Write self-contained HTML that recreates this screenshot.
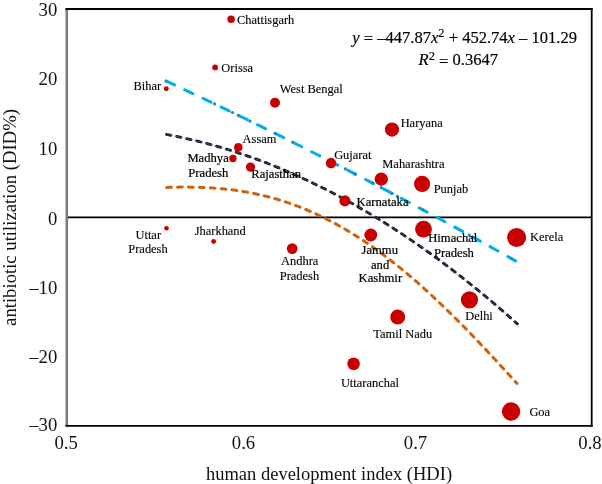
<!DOCTYPE html>
<html><head><meta charset="utf-8"><style>
html,body{margin:0;padding:0;background:#fff;}
body{width:602px;height:484px;overflow:hidden;position:relative;}
svg{position:absolute;left:0;top:0;will-change:transform;}
text{font-family:"Liberation Serif",serif;}
.l{font-size:12.45px;fill:#000;stroke:#000;stroke-width:0.12px;}
.b{font-size:12.65px;stroke:#000;stroke-width:0.22px;}
.t{font-size:18.70px;fill:#111;}
.e{fill:#000;stroke:#000;stroke-width:0.18px;}
</style></head><body>
<svg width="602" height="484" viewBox="0 0 602 484">
<line x1="66.8" y1="8.2" x2="66.8" y2="426.6" stroke="#7d7d7d" stroke-width="2.6"/>
<line x1="65.5" y1="9" x2="592.6" y2="9" stroke="#000" stroke-width="1.8"/>
<line x1="591.7" y1="8.1" x2="591.7" y2="426.7" stroke="#000" stroke-width="1.8"/>
<line x1="65.5" y1="425.8" x2="592.6" y2="425.8" stroke="#000" stroke-width="1.8"/>
<line x1="68" y1="217.4" x2="591" y2="217.4" stroke="#000" stroke-width="1.8"/>
<path d="M166.40 81.16 L170.83 83.23 L175.26 85.30 L179.69 87.37 L184.12 89.46 L188.55 91.54 L192.98 93.63 L197.41 95.73 L201.84 97.84 L206.27 99.94 L210.70 102.06 L215.13 104.18 L219.56 106.30 L223.99 108.44 L228.43 110.57 L232.86 112.71 L237.29 114.86 L241.72 117.02 L246.15 119.18 L250.58 121.34 L255.01 123.51 L259.44 125.69 L263.87 127.87 L268.30 130.05 L272.73 132.25 L277.16 134.44 L281.59 136.65 L286.02 138.86 L290.45 141.07 L294.88 143.29 L299.31 145.52 L303.74 147.75 L308.17 149.98 L312.60 152.23 L317.03 154.47 L321.46 156.73 L325.89 158.99 L330.32 161.25 L334.75 163.52 L339.18 165.80 L343.62 168.08 L348.05 170.37 L352.48 172.66 L356.91 174.96 L361.34 177.26 L365.77 179.57 L370.20 181.88 L374.63 184.20 L379.06 186.53 L383.49 188.86 L387.92 191.20 L392.35 193.54 L396.78 195.89 L401.21 198.24 L405.64 200.60 L410.07 202.96 L414.50 205.33 L418.93 207.71 L423.36 210.09 L427.79 212.48 L432.22 214.87 L436.65 217.27 L441.08 219.67 L445.51 222.08 L449.94 224.50 L454.37 226.92 L458.81 229.34 L463.24 231.77 L467.67 234.21 L472.10 236.65 L476.53 239.10 L480.96 241.55 L485.39 244.01 L489.82 246.48 L494.25 248.95 L498.68 251.42 L503.11 253.91 L507.54 256.39 L511.97 258.89 L516.40 261.38" fill="none" stroke="#00aeef" stroke-width="3" stroke-linecap="round" stroke-dasharray="9 11.2"/>
<path d="M166.52 134.46 L170.96 135.29 L175.40 136.17 L179.84 137.08 L184.28 138.03 L188.72 139.03 L193.16 140.06 L197.61 141.13 L202.05 142.25 L206.49 143.40 L210.93 144.60 L215.37 145.83 L219.81 147.11 L224.25 148.42 L228.69 149.78 L233.14 151.17 L237.58 152.61 L242.02 154.08 L246.46 155.60 L250.90 157.15 L255.34 158.75 L259.78 160.38 L264.22 162.06 L268.66 163.77 L273.11 165.53 L277.55 167.33 L281.99 169.16 L286.43 171.04 L290.87 172.95 L295.31 174.91 L299.75 176.91 L304.19 178.94 L308.63 181.02 L313.08 183.14 L317.52 185.30 L321.96 187.49 L326.40 189.73 L330.84 192.01 L335.28 194.33 L339.72 196.68 L344.16 199.08 L348.60 201.52 L353.05 204.00 L357.49 206.52 L361.93 209.07 L366.37 211.67 L370.81 214.31 L375.25 216.99 L379.69 219.71 L384.13 222.47 L388.57 225.27 L393.02 228.11 L397.46 230.99 L401.90 233.90 L406.34 236.86 L410.78 239.86 L415.22 242.90 L419.66 245.98 L424.10 249.10 L428.54 252.26 L432.99 255.46 L437.43 258.70 L441.87 261.99 L446.31 265.31 L450.75 268.67 L455.19 272.07 L459.63 275.51 L464.07 278.99 L468.52 282.51 L472.96 286.07 L477.40 289.67 L481.84 293.32 L486.28 297.00 L490.72 300.72 L495.16 304.48 L499.60 308.28 L504.04 312.13 L508.49 316.01 L512.93 319.93 L517.37 323.89" fill="none" stroke="#0c1120" stroke-width="2.8" stroke-linecap="round" stroke-dasharray="4.5 5.77"/>
<path d="M166.52 134.46 L170.96 135.29 L175.40 136.17 L179.84 137.08 L184.28 138.03 L188.72 139.03 L193.16 140.06 L197.61 141.13 L202.05 142.25 L206.49 143.40 L210.93 144.60 L215.37 145.83 L219.81 147.11 L224.25 148.42 L228.69 149.78 L233.14 151.17 L237.58 152.61 L242.02 154.08 L246.46 155.60 L250.90 157.15 L255.34 158.75 L259.78 160.38 L264.22 162.06 L268.66 163.77 L273.11 165.53 L277.55 167.33 L281.99 169.16 L286.43 171.04 L290.87 172.95 L295.31 174.91 L299.75 176.91 L304.19 178.94 L308.63 181.02 L313.08 183.14 L317.52 185.30 L321.96 187.49 L326.40 189.73 L330.84 192.01 L335.28 194.33 L339.72 196.68 L344.16 199.08 L348.60 201.52 L353.05 204.00 L357.49 206.52 L361.93 209.07 L366.37 211.67 L370.81 214.31 L375.25 216.99 L379.69 219.71 L384.13 222.47 L388.57 225.27 L393.02 228.11 L397.46 230.99 L401.90 233.90 L406.34 236.86 L410.78 239.86 L415.22 242.90 L419.66 245.98 L424.10 249.10 L428.54 252.26 L432.99 255.46 L437.43 258.70 L441.87 261.99 L446.31 265.31 L450.75 268.67 L455.19 272.07 L459.63 275.51 L464.07 278.99 L468.52 282.51 L472.96 286.07 L477.40 289.67 L481.84 293.32 L486.28 297.00 L490.72 300.72 L495.16 304.48 L499.60 308.28 L504.04 312.13 L508.49 316.01 L512.93 319.93 L517.37 323.89" fill="none" stroke="#a8b8e8" stroke-width="0.7" opacity="0.5"/>
<path d="M166.60 187.44 L170.14 187.33 L173.68 187.24 L177.22 187.17 L180.76 187.12 L184.30 187.10 L187.84 187.10 L191.38 187.13 L194.92 187.19 L198.45 187.28 L201.99 187.40 L205.53 187.56 L209.07 187.74 L212.61 187.97 L216.15 188.22 L219.69 188.52 L223.23 188.85 L226.77 189.23 L230.31 189.64 L233.85 190.09 L237.39 190.59 L240.93 191.13 L244.47 191.71 L248.01 192.34 L251.55 193.01 L255.08 193.73 L258.62 194.50 L262.16 195.31 L265.70 196.18 L269.24 197.09 L272.78 198.05 L276.32 199.06 L279.86 200.13 L283.40 201.24 L286.94 202.40 L290.48 203.62 L294.02 204.89 L297.56 206.21 L301.10 207.59 L304.64 209.02 L308.18 210.50 L311.72 212.04 L315.25 213.63 L318.79 215.27 L322.33 216.97 L325.87 218.73 L329.41 220.54 L332.95 222.40 L336.49 224.32 L340.03 226.29 L343.57 228.32 L347.11 230.40 L350.65 232.53 L354.19 234.72 L357.73 236.96 L361.27 239.26 L364.81 241.61 L368.35 244.01 L371.88 246.47 L375.42 248.98 L378.96 251.53 L382.50 254.15 L386.04 256.81 L389.58 259.52 L393.12 262.28 L396.66 265.09 L400.20 267.95 L403.74 270.86 L407.28 273.81 L410.82 276.81 L414.36 279.86 L417.90 282.95 L421.44 286.08 L424.98 289.26 L428.52 292.48 L432.05 295.74 L435.59 299.05 L439.13 302.39 L442.67 305.77 L446.21 309.19 L449.75 312.64 L453.29 316.13 L456.83 319.66 L460.37 323.21 L463.91 326.80 L467.45 330.42 L470.99 334.07 L474.53 337.74 L478.07 341.45 L481.61 345.17 L485.15 348.92 L488.68 352.70 L492.22 356.49 L495.76 360.30 L499.30 364.13 L502.84 367.98 L506.38 371.84 L509.92 375.71 L513.46 379.59 L517.00 383.48" fill="none" stroke="#d0620c" stroke-width="3" stroke-linecap="round" stroke-dasharray="4.8 6.13"/>
<circle cx="166.0" cy="81.0" r="1.6" fill="#1a8fae"/>
<circle cx="214.6" cy="103.9" r="1.6" fill="#1a8fae"/>
<circle cx="232.5" cy="112.5" r="1.6" fill="#1a8fae"/>
<circle cx="238.3" cy="115.4" r="1.6" fill="#1a8fae"/>
<circle cx="250.0" cy="121.1" r="1.6" fill="#1a8fae"/>
<circle cx="275.0" cy="133.4" r="1.6" fill="#1a8fae"/>
<circle cx="292.7" cy="142.2" r="1.6" fill="#1a8fae"/>
<circle cx="345.3" cy="168.9" r="1.6" fill="#1a8fae"/>
<circle cx="354.6" cy="173.8" r="1.6" fill="#1a8fae"/>
<circle cx="372.3" cy="183.0" r="1.6" fill="#1a8fae"/>
<circle cx="381.2" cy="187.7" r="1.6" fill="#1a8fae"/>
<circle cx="392.2" cy="193.5" r="1.6" fill="#1a8fae"/>
<circle cx="397.5" cy="196.3" r="1.6" fill="#1a8fae"/>
<circle cx="422.9" cy="209.8" r="1.6" fill="#1a8fae"/>
<circle cx="469.2" cy="235.1" r="1.6" fill="#1a8fae"/>
<circle cx="511.2" cy="258.5" r="1.6" fill="#1a8fae"/>
<circle cx="231.1" cy="19.2" r="3.75" fill="#c80000"/>
<circle cx="215.1" cy="67.4" r="2.85" fill="#c80000"/>
<circle cx="166.3" cy="88.7" r="2.45" fill="#c80000"/>
<circle cx="275.0" cy="102.8" r="5.00" fill="#c80000"/>
<circle cx="392.0" cy="129.6" r="7.10" fill="#c80000"/>
<circle cx="331.0" cy="163.1" r="5.25" fill="#c80000"/>
<circle cx="381.3" cy="179.2" r="6.60" fill="#c80000"/>
<circle cx="422.1" cy="183.9" r="8.10" fill="#c80000"/>
<circle cx="344.9" cy="200.9" r="5.60" fill="#c80000"/>
<circle cx="238.3" cy="147.4" r="4.30" fill="#c80000"/>
<circle cx="232.9" cy="158.5" r="3.70" fill="#c80000"/>
<circle cx="250.5" cy="167.1" r="4.65" fill="#c80000"/>
<circle cx="166.5" cy="228.3" r="2.30" fill="#c80000"/>
<circle cx="213.6" cy="241.5" r="2.40" fill="#c80000"/>
<circle cx="292.2" cy="248.6" r="5.35" fill="#c80000"/>
<circle cx="370.8" cy="235.0" r="6.40" fill="#c80000"/>
<circle cx="423.5" cy="229.2" r="8.40" fill="#c80000"/>
<circle cx="516.6" cy="237.5" r="9.50" fill="#c80000"/>
<circle cx="469.5" cy="299.8" r="8.60" fill="#c80000"/>
<circle cx="397.7" cy="317.0" r="7.50" fill="#c80000"/>
<circle cx="353.6" cy="363.8" r="6.30" fill="#c80000"/>
<circle cx="511.1" cy="411.5" r="9.20" fill="#c80000"/>
<text x="265.65" y="23.90" text-anchor="middle" class="l">Chattisgarh</text>
<text x="237.20" y="72.00" text-anchor="middle" class="l">Orissa</text>
<text x="147.40" y="89.90" text-anchor="middle" class="l">Bihar</text>
<text x="311.25" y="92.90" text-anchor="middle" class="l">West Bengal</text>
<text x="421.70" y="126.60" text-anchor="middle" class="l">Haryana</text>
<text x="352.80" y="159.00" text-anchor="middle" class="l">Gujarat</text>
<text x="413.40" y="168.40" text-anchor="middle" class="l">Maharashtra</text>
<text x="450.95" y="192.90" text-anchor="middle" class="l">Punjab</text>
<text x="382.55" y="206.40" text-anchor="middle" class="l b">Karnataka</text>
<text x="259.55" y="143.40" text-anchor="middle" class="l">Assam</text>
<text x="208.10" y="162.10" text-anchor="middle" class="l b">Madhya</text>
<text x="208.30" y="176.80" text-anchor="middle" class="l b">Pradesh</text>
<text x="276.15" y="177.50" text-anchor="middle" class="l b">Rajasthan</text>
<text x="148.25" y="238.70" text-anchor="middle" class="l">Uttar</text>
<text x="148.00" y="253.40" text-anchor="middle" class="l">Pradesh</text>
<text x="220.25" y="234.80" text-anchor="middle" class="l">Jharkhand</text>
<text x="299.75" y="265.20" text-anchor="middle" class="l">Andhra</text>
<text x="299.45" y="280.20" text-anchor="middle" class="l">Pradesh</text>
<text x="379.75" y="254.00" text-anchor="middle" class="l b">Jammu</text>
<text x="380.10" y="268.50" text-anchor="middle" class="l b">and</text>
<text x="380.35" y="282.40" text-anchor="middle" class="l b">Kashmir</text>
<text x="452.80" y="242.40" text-anchor="middle" class="l b">Himachal</text>
<text x="453.95" y="256.90" text-anchor="middle" class="l b">Pradesh</text>
<text x="546.65" y="240.70" text-anchor="middle" class="l">Kerela</text>
<text x="479.00" y="319.60" text-anchor="middle" class="l">Delhi</text>
<text x="402.80" y="338.30" text-anchor="middle" class="l">Tamil Nadu</text>
<text x="369.90" y="386.70" text-anchor="middle" class="l">Uttaranchal</text>
<text x="539.75" y="415.60" text-anchor="middle" class="l">Goa</text>
<text x="57.3" y="16.40" text-anchor="end" class="t">30</text>
<text x="57.3" y="85.47" text-anchor="end" class="t">20</text>
<text x="57.3" y="155.43" text-anchor="end" class="t">10</text>
<text x="57.3" y="224.60" text-anchor="end" class="t">0</text>
<text x="57.3" y="294.47" text-anchor="end" class="t">–10</text>
<text x="57.3" y="363.03" text-anchor="end" class="t">–20</text>
<text x="57.3" y="431.20" text-anchor="end" class="t">–30</text>
<text x="66.20" y="449.2" text-anchor="middle" class="t">0.5</text>
<text x="243.50" y="449.2" text-anchor="middle" class="t">0.6</text>
<text x="415.50" y="449.2" text-anchor="middle" class="t">0.7</text>
<text x="590.00" y="449.2" text-anchor="middle" class="t">0.8</text>
<text x="329" y="480" text-anchor="middle" class="t" style="font-size:18.5px">human development index (HDI)</text>
<text transform="translate(15.6 217.45) rotate(-90)" text-anchor="middle" class="t" style="font-size:18.7px">antibiotic utilization (DID%)</text>
<g transform="translate(464.60 42.60) scale(1.035 1)"><text x="0" y="0" text-anchor="middle" class="e" style="font-size:16.00px"><tspan font-style="italic">y</tspan> <tspan dy="1.2">=</tspan><tspan dy="-1.2"> –447.87</tspan><tspan font-style="italic">x</tspan><tspan dy="-5.2" font-size="12">2</tspan><tspan dy="5.2"> </tspan><tspan dy="0.8">+</tspan><tspan dy="-0.8"> 452.74</tspan><tspan font-style="italic">x</tspan> – 101.29</text></g>
<g transform="translate(458.30 65.30) scale(1.035 1)"><text x="0" y="0" text-anchor="middle" class="e" style="font-size:16.00px"><tspan font-style="italic">R</tspan><tspan dy="-5.8" font-size="12">2</tspan><tspan dy="5.8"> </tspan><tspan dy="1.2">=</tspan><tspan dy="-1.2"> 0.3647</tspan></text></g>
</svg>
</body></html>
